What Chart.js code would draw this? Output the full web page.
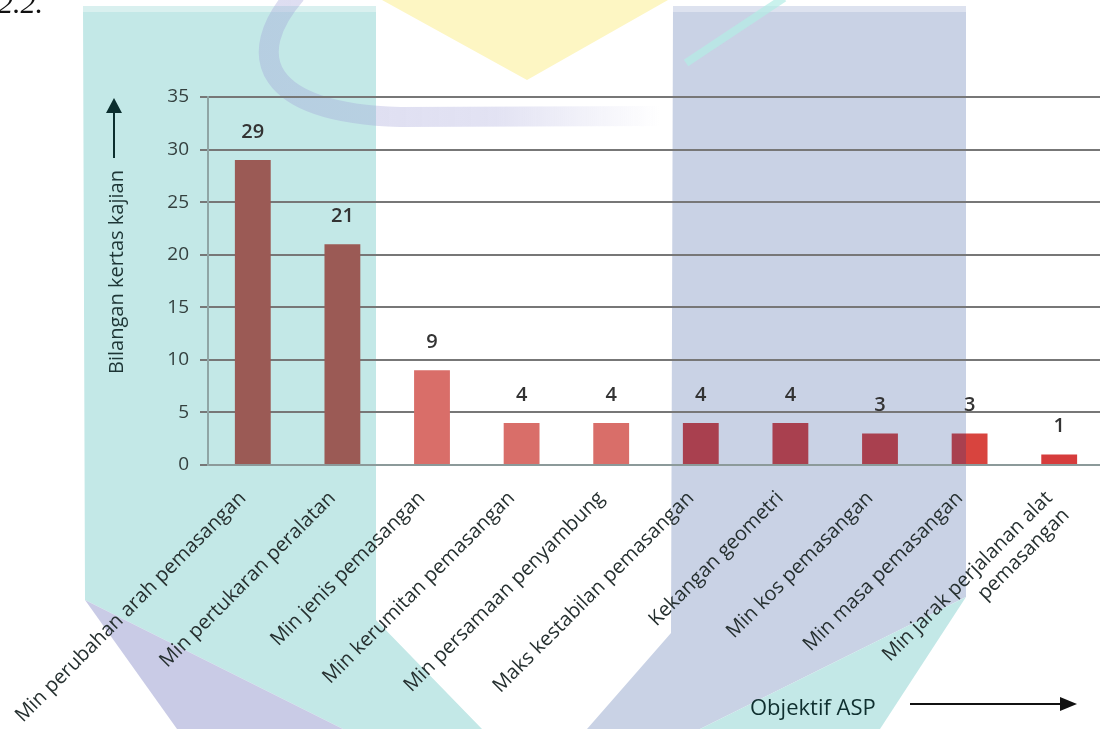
<!DOCTYPE html>
<html>
<head>
<meta charset="utf-8">
<script src="https://cdn.jsdelivr.net/npm/chart.js@4.4.0/dist/chart.umd.min.js"></script>
<style>
html,body{margin:0;padding:0;background:#fff;overflow:hidden;}
#wrap{position:relative;width:1104px;height:729px;}
</style>
</head>
<body>
<div id="wrap"><canvas id="aspChart" width="1104" height="729"></canvas></div>
<script>
// data
const categories=[
  'Min perubahan arah pemasangan',
  'Min pertukaran peralatan',
  'Min jenis pemasangan',
  'Min kerumitan pemasangan',
  'Min persamaan penyambung',
  'Maks kestabilan pemasangan',
  'Kekangan geometri',
  'Min kos pemasangan',
  'Min masa pemasangan',
  ['Min jarak perjalanan alat','pemasangan']
];
const paperCounts=[29,21,9,4,4,4,4,3,3,1];
const yTicks=[0,5,10,15,20,25,30,35];
const barColors=['#9b5a55','#9b5a55','#d96e69','#d96e69','#d96e69','#a9404f','#a9404f','#a9404f','#a9404f','#d63c3c'];
const yTitle='Bilangan kertas kajian';
const xTitle='Objektif ASP';

const FONT='"Open Sans", "DejaVu Sans", sans-serif';

// background watermark (faded logo shapes behind the chart)
const watermark={id:'watermark',beforeDraw(chart){
  const c=chart.ctx;
  c.save();
  const poly=(pts,col)=>{c.fillStyle=col;c.beginPath();pts.forEach((p,i)=>i?c.lineTo(p[0],p[1]):c.moveTo(p[0],p[1]));c.closePath();c.fill();};
  poly([[382,0],[668,0],[527,80]],'#fdf6c3');
  poly([[83,6],[376,6],[376,620],[482,729],[343,729],[85,600]],'#c3e8e7');
  poly([[85,600],[343,729],[177,729]],'#c9cbe6');
  poly([[673,6],[966,6],[966,597],[700,729],[587,729],[671,633]],'#c9d2e5');
  poly([[966,597],[880,729],[700,729]],'#c3e8e7');
  c.fillStyle='#d9f0ef';c.fillRect(83,6,293,6);
  c.fillStyle='#dde2ef';c.fillRect(673,6,293,6);
  // arc
  const g=c.createLinearGradient(250,0,660,0);
  g.addColorStop(0,'rgba(160,160,215,0.36)');
  g.addColorStop(0.6,'rgba(160,160,215,0.3)');
  g.addColorStop(1,'rgba(160,160,215,0)');
  c.strokeStyle=g;c.lineWidth=20;
  c.beginPath();c.moveTo(296,-6);c.bezierCurveTo(243,55,262,113,400,117);c.lineTo(660,116);c.stroke();
  // small streak in the blue band
  c.strokeStyle='rgba(180,236,230,0.7)';c.lineWidth=8;
  c.beginPath();c.moveTo(784,-2);c.lineTo(686,63);c.stroke();
  c.restore();
}};

// value labels above bars
const valueLabels={id:'valueLabels',afterDatasetsDraw(chart){
  const c=chart.ctx;
  c.save();
  c.font='600 20px '+FONT;c.fillStyle='#333';c.textAlign='center';c.textBaseline='middle';
  chart.getDatasetMeta(0).data.forEach((el,i)=>{c.fillText(String(paperCounts[i]),el.x,el.y-28);});
  c.restore();
}};

// rotated category labels, axis titles and arrows
const annotations={id:'annotations',afterDraw(chart){
  const c=chart.ctx, xs=chart.scales.x, bottom=chart.chartArea.bottom;
  c.save();
  c.font='20px '+FONT;c.fillStyle='#263030';c.textAlign='right';c.textBaseline='middle';
  categories.forEach((lab,i)=>{
    const lines=Array.isArray(lab)?lab:[lab];
    c.save();
    c.translate(xs.getPixelForValue(i)-10,bottom+30);
    c.rotate(-Math.PI/4);
    lines.forEach((t,j)=>c.fillText(t,0,j*24));
    c.restore();
  });
  // y title
  c.save();
  c.translate(117,272);c.rotate(-Math.PI/2);
  c.textAlign='center';c.fillStyle='#1d3535';
  c.fillText(yTitle,0,0);
  c.restore();
  // y arrow
  c.strokeStyle='#0b2e2e';c.fillStyle='#0b2e2e';c.lineWidth=2;
  c.beginPath();c.moveTo(114,158);c.lineTo(114,110);c.stroke();
  c.beginPath();c.moveTo(114,98);c.lineTo(106,113);c.lineTo(122,113);c.closePath();c.fill();
  // x title
  c.font='22px '+FONT;c.textAlign='left';c.textBaseline='alphabetic';c.fillStyle='#0f2f2f';
  c.fillText(xTitle,750,715);
  c.strokeStyle='#111';c.fillStyle='#111';
  c.beginPath();c.moveTo(910,704);c.lineTo(1062,704);c.stroke();
  c.beginPath();c.moveTo(1077,704);c.lineTo(1060,697);c.lineTo(1060,711);c.closePath();c.fill();
  // caption remnant
  c.font='italic 30px "Liberation Serif", serif';c.fillStyle='#111';
  c.fillText('2.2.',-2,13);
  c.restore();
}};

new Chart(document.getElementById('aspChart'),{
  type:'bar',
  data:{
    labels:categories,
    datasets:[{
      label:yTitle,
      data:paperCounts,
      backgroundColor(ctx){
        const i=ctx.dataIndex;
        if(i!==8||!ctx.chart.chartArea) return barColors[i];
        const xs=ctx.chart.scales.x;
        const w=(xs.width/categories.length)*0.4;
        const x0=xs.getPixelForValue(i)-w/2;
        const t=Math.min(Math.max((966-x0)/w,0),1);
        const g=ctx.chart.ctx.createLinearGradient(x0,0,x0+w,0);
        g.addColorStop(0,barColors[i]);g.addColorStop(t,barColors[i]);
        g.addColorStop(t,'#d8443e');g.addColorStop(1,'#d8443e');
        return g;
      },
      borderWidth:0,
      barPercentage:0.4,
      categoryPercentage:1.0
    }]
  },
  options:{
    responsive:false,
    animation:false,
    layout:{padding:{top:97,left:0,right:0,bottom:0}},
    plugins:{legend:{display:false},tooltip:{enabled:false}},
    scales:{
      x:{
        grid:{display:false,drawTicks:false},
        border:{display:true,color:'#8c9a9a',width:2},
        ticks:{display:false},
        afterFit(s){s.height=264;}
      },
      y:{
        min:0,max:35,
        afterBuildTicks(s){s.ticks=yTicks.map(v=>({value:v}));},
        ticks:{font:{family:FONT,size:19},color:'#34403f',padding:11},
        grid:{color:'#777',lineWidth:2,tickLength:8,drawTicks:true},
        border:{display:true,color:'#8fa5a5',width:2},
        afterFit(s){s.width=208;}
      }
    }
  },
  plugins:[watermark,valueLabels,annotations]
});
</script>
</body>
</html>
